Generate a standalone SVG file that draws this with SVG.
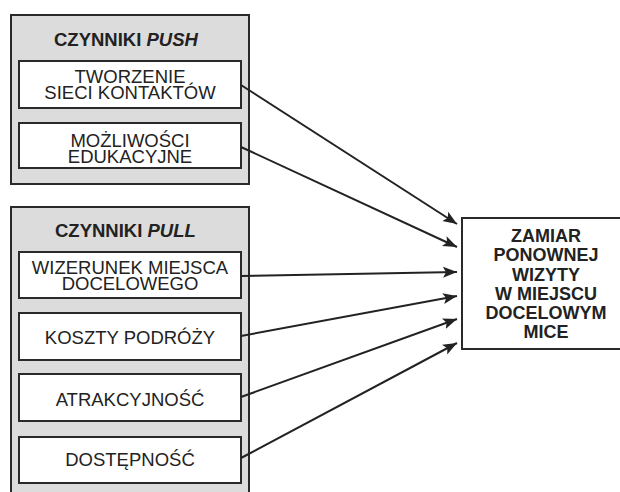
<svg xmlns="http://www.w3.org/2000/svg" width="620" height="492" viewBox="0 0 620 492">
<defs>
<style>
.grp{fill:#dcdcdc;stroke:#2a2a2a;stroke-width:2}
.box{fill:#fff;stroke:#2a2a2a;stroke-width:2}
.t{font-family:"Liberation Sans",Arial,sans-serif;font-size:18.5px;fill:#222;text-anchor:middle}
.h{font-family:"Liberation Sans",Arial,sans-serif;font-size:18.5px;font-weight:bold;fill:#222}
.r{font-family:"Liberation Sans",Arial,sans-serif;font-size:18px;font-weight:bold;fill:#222;text-anchor:middle}
.c{fill:none;stroke:#222;stroke-width:2}
</style>
<marker id="ah" markerUnits="userSpaceOnUse" markerWidth="15" markerHeight="12" refX="14" refY="5.5" orient="auto" viewBox="0 0 15 11">
<path d="M0,0 L14,5.5 L0,11 L3,5.5 Z" fill="#222"/>
</marker>
</defs>
<rect width="620" height="492" fill="#fff"/>

<g id="push-group">
<rect class="grp" x="11" y="15" width="238" height="169"/>
<text class="h" x="54" y="46">CZYNNIKI <tspan font-style="italic">PUSH</tspan></text>
</g>
<g id="node-tworzenie">
<rect class="box" x="19" y="61" width="222" height="47"/>
<text class="t" x="130" y="83">TWORZENIE<tspan x="130" y="99">SIECI KONTAKTÓW</tspan></text>
</g>
<g id="node-mozliwosci">
<rect class="box" x="19" y="123" width="222" height="45"/>
<text class="t" x="130" y="147">MOŻLIWOŚCI<tspan x="130" y="163">EDUKACYJNE</tspan></text>
</g>

<g id="pull-group">
<rect class="grp" x="11" y="207" width="238" height="295"/>
<text class="h" x="55" y="237">CZYNNIKI <tspan font-style="italic">PULL</tspan></text>
</g>
<g id="node-wizerunek">
<rect class="box" x="19" y="252" width="222" height="46"/>
<text class="t" x="130" y="274">WIZERUNEK MIEJSCA<tspan x="130" y="290">DOCELOWEGO</tspan></text>
</g>
<g id="node-koszty">
<rect class="box" x="19" y="313" width="222" height="47"/>
<text class="t" x="130" y="344">KOSZTY PODRÓŻY</text>
</g>
<g id="node-atrakcyjnosc">
<rect class="box" x="19" y="374" width="222" height="47"/>
<text class="t" x="130" y="406">ATRAKCYJNOŚĆ</text>
</g>
<g id="node-dostepnosc">
<rect class="box" x="19" y="437" width="222" height="46"/>
<text class="t" x="130" y="466">DOSTĘPNOŚĆ</text>
</g>

<g id="node-zamiar">
<rect class="box" x="462" y="218" width="170" height="131"/>
<text class="r" x="546" y="242">ZAMIAR<tspan x="546" y="261">PONOWNEJ</tspan><tspan x="546" y="280.5">WIZYTY</tspan><tspan x="546" y="299.5">W MIEJSCU</tspan><tspan x="546" y="319">DOCELOWYM</tspan><tspan x="546" y="338">MICE</tspan></text>
</g>

<g id="connectors">
<path class="c" d="M241,85 L457,224" marker-end="url(#ah)"/>
<path class="c" d="M241,147 L457,247" marker-end="url(#ah)"/>
<path class="c" d="M241,276 L457,272" marker-end="url(#ah)"/>
<path class="c" d="M241,336 L457,296" marker-end="url(#ah)"/>
<path class="c" d="M241,397 L457,319" marker-end="url(#ah)"/>
<path class="c" d="M241,458 L457,343" marker-end="url(#ah)"/>
</g>
</svg>
